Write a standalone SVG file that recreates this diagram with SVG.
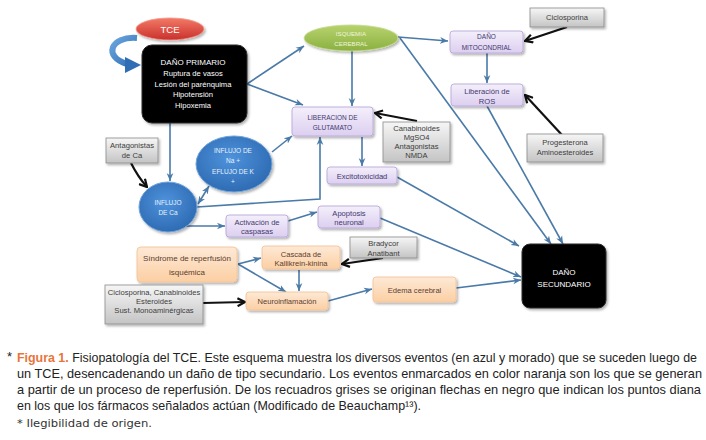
<svg xmlns="http://www.w3.org/2000/svg" width="706" height="440" viewBox="0 0 706 440">
<defs>
<linearGradient id="gGray" x1="0" y1="0" x2="0" y2="1"><stop offset="0" stop-color="#f6f6f6"/><stop offset="1" stop-color="#c4c4c4"/></linearGradient>
<linearGradient id="gPurple" x1="0" y1="0" x2="0" y2="1"><stop offset="0" stop-color="#f4effb"/><stop offset="1" stop-color="#dccff0"/></linearGradient>
<linearGradient id="gOrange" x1="0" y1="0" x2="0" y2="1"><stop offset="0" stop-color="#fee9d6"/><stop offset="1" stop-color="#fbcfa3"/></linearGradient>
<radialGradient id="gBlue" cx="0.45" cy="0.4" r="0.65"><stop offset="0" stop-color="#4e93dc"/><stop offset="1" stop-color="#2c68b0"/></radialGradient>
<linearGradient id="gGreen" x1="0" y1="0" x2="0" y2="1"><stop offset="0" stop-color="#b7d36c"/><stop offset="1" stop-color="#8bb042"/></linearGradient>
<linearGradient id="gRed" x1="0" y1="0" x2="0" y2="1"><stop offset="0" stop-color="#f37a66"/><stop offset="1" stop-color="#c9302c"/></linearGradient>
<linearGradient id="gArc" x1="0" y1="0" x2="1" y2="1"><stop offset="0" stop-color="#6aa6de"/><stop offset="1" stop-color="#2f6db5"/></linearGradient>
<filter id="sh" x="-20%" y="-20%" width="150%" height="160%"><feDropShadow dx="1.5" dy="1.8" stdDeviation="1.2" flood-color="#000" flood-opacity="0.3"/></filter>
<marker id="ab" viewBox="0 0 10 10" refX="10" refY="5" markerWidth="8" markerHeight="8" markerUnits="userSpaceOnUse" orient="auto-start-reverse"><path d="M0,0.8 L10,5 L0,9.2 L3,5 z" fill="#4a7aa8"/></marker>
<marker id="ak" viewBox="0 0 10 10" refX="9" refY="5" markerWidth="10" markerHeight="10" markerUnits="userSpaceOnUse" orient="auto"><path d="M1.5,1 L9,5 L1.5,9" fill="none" stroke="#111" stroke-width="2.2"/></marker>
<style>
.t{font-family:"Liberation Sans",Arial,sans-serif;text-anchor:middle;}
.s{font-size:7.6px;}
.c{font-size:6.5px;}
.gray rect{fill:url(#gGray);stroke:#8a8a8a;stroke-width:0.8;filter:url(#sh);}
.gray text{fill:#3c3c3c;}
.pur rect{fill:url(#gPurple);stroke:#b9a8da;stroke-width:0.9;filter:url(#sh);}
.pur text{fill:#43386e;}
.org rect{fill:url(#gOrange);stroke:#f4c498;stroke-width:0.9;filter:url(#sh);}
.org text{fill:#5a4030;}
.blk rect{fill:#000;stroke:#2a2a2a;stroke-width:1;filter:url(#sh);}
.blk text{fill:#fff;}
.blu ellipse{fill:url(#gBlue);stroke:#6fa3da;stroke-width:1;filter:url(#sh);}
.blu text{fill:#e8f1fb;}
.bl{fill:none;stroke:#4a7aa8;stroke-width:1.6;marker-end:url(#ab);}
.kl{fill:none;stroke:#111;stroke-width:2.2;marker-end:url(#ak);}
.cap{font-family:"Liberation Sans",Arial,sans-serif;font-size:13px;fill:#222;}
</style>
</defs>
<rect width="706" height="440" fill="#fff"/>

<g id="connectors">
<path class="bl" d="M247,84 L304,46"/>
<path class="bl" d="M247,84 L303,105"/>
<path class="bl" d="M170,123 L170,181"/>
<path class="bl" d="M398,37 L448,41"/>
<path class="bl" d="M352,51 L352,106"/>
<path class="bl" d="M400,38 L551,244"/>
<path class="bl" d="M487,53 L487,83"/>
<path class="bl" d="M487,106 L563,244"/>
<path class="bl" d="M362,137 L362,166"/>
<path class="bl" d="M272,152 L292,136"/>
<path class="bl" d="M198,204 L209,186" marker-start="url(#ab)"/>
<path class="bl" d="M197,207 L320,199 L320,137"/>
<path class="bl" d="M186,226 L225,226"/>
<path class="bl" d="M288,221 L317,212"/>
<path class="bl" d="M397,177 L519,246"/>
<path class="bl" d="M380,218 L521,277"/>
<path class="bl" d="M238,264 L261,258"/>
<path class="bl" d="M238,264 L286,292"/>
<path class="bl" d="M299,270 L299,291"/>
<path class="bl" d="M328,301 L372,289"/>
<path class="bl" d="M456,288 L521,280"/>
<path class="kl" d="M567,27 L525,41"/>
<path class="kl" d="M562,135 L525,95"/>
<path class="kl" d="M417,121 L375,113"/>
<path class="kl" d="M131,163 Q138,177 147,187"/>
<path class="kl" d="M383,258 L342,264"/>
<path class="kl" d="M203,303 L245,302"/>
<g id="tce-arrow">
<path d="M137,38 C110,36 103,57 127,64" fill="none" stroke="url(#gArc)" stroke-width="6"/>
<path d="M125,57 L141,65 L125,73 Z" fill="#2f6db5"/>
</g>
</g>

<g id="tce">
<ellipse cx="170" cy="29" rx="34" ry="11" fill="url(#gRed)" stroke="#f19a8c" stroke-width="0.8" filter="url(#sh)"/>
<text class="t" x="170" y="32.5" font-size="9.5" fill="#fff">TCE</text>
</g>

<g id="dano-primario" class="blk">
<rect x="142" y="45" width="105" height="78" rx="10"/>
<text class="t" x="193" y="65" font-size="8">DAÑO PRIMARIO</text>
<text class="t s" x="193" y="76">Ruptura de vasos</text>
<text class="t s" x="193" y="86.5">Lesión  del parénquima</text>
<text class="t s" x="193" y="97">Hipotensión</text>
<text class="t s" x="193" y="107.5">Hipoxemia</text>
</g>

<g id="isquemia">
<ellipse cx="351" cy="38" rx="47" ry="13" fill="url(#gGreen)" stroke="#c5dc8e" stroke-width="0.8" filter="url(#sh)"/>
<text class="t" x="351" y="35.5" font-size="6.2" fill="#eef5dc">ISQUEMIA</text>
<text class="t" x="351" y="45.5" font-size="6.2" fill="#eef5dc">CEREBRAL</text>
</g>

<g id="dano-mito" class="pur">
<rect x="450" y="31" width="73" height="22" rx="3"/>
<text class="t c" x="486.5" y="39">DAÑO</text>
<text class="t c" x="486.5" y="49.5">MITOCONDRIAL</text>
</g>

<g id="ciclosporina" class="gray">
<rect x="530" y="8" width="74" height="19"/>
<text class="t s" x="567" y="20">Ciclosporina</text>
</g>

<g id="ros" class="pur">
<rect x="451" y="84" width="72" height="22" rx="3"/>
<text class="t s" x="487" y="93.5">Liberación de</text>
<text class="t s" x="487" y="103.5">ROS</text>
</g>

<g id="progesterona" class="gray">
<rect x="527" y="134" width="76" height="28"/>
<text class="t s" x="565" y="145">Progesterona</text>
<text class="t s" x="565" y="155">Aminoesteroides</text>
</g>

<g id="glutamato" class="pur">
<rect x="292" y="107" width="81" height="29" rx="3"/>
<text class="t c" x="332.5" y="119.5">LIBERACION DE</text>
<text class="t c" x="332.5" y="130">GLUTAMATO</text>
</g>

<g id="canabinoides" class="gray">
<rect x="383" y="122" width="67" height="40"/>
<text class="t s" x="416.5" y="130.5">Canabinoides</text>
<text class="t s" x="416.5" y="139.5">MgSO4</text>
<text class="t s" x="416.5" y="148.5">Antagonistas</text>
<text class="t s" x="416.5" y="157.5">NMDA</text>
</g>

<g id="excitotoxicidad" class="pur">
<rect x="327" y="167" width="70" height="17" rx="3"/>
<text class="t s" x="362" y="178.5">Excitotoxicidad</text>
</g>

<g id="influjo-na" class="blu">
<ellipse cx="234" cy="164" rx="38" ry="28"/>
<text class="t c" x="233" y="152.5">INFLUJO DE</text>
<text class="t c" x="233" y="163">Na +</text>
<text class="t c" x="233" y="174">EFLUJO DE K</text>
<text class="t c" x="233" y="184">+</text>
</g>

<g id="influjo-ca" class="blu">
<ellipse cx="168" cy="207" rx="29" ry="25"/>
<text class="t c" x="168" y="204.5">INFLUJO</text>
<text class="t c" x="168" y="215">DE Ca</text>
</g>

<g id="antagonistas-ca" class="gray">
<rect x="106" y="138" width="52" height="25"/>
<text class="t s" x="132" y="148">Antagonistas</text>
<text class="t s" x="132" y="158">de Ca</text>
</g>

<g id="caspasas" class="pur">
<rect x="226" y="215" width="62" height="22" rx="3"/>
<text class="t s" x="257" y="224.5">Activación de</text>
<text class="t s" x="257" y="234">caspasas</text>
</g>

<g id="apoptosis" class="pur">
<rect x="318" y="206" width="62" height="22" rx="3"/>
<text class="t s" x="349" y="215.5">Apoptosis</text>
<text class="t s" x="349" y="225">neuronal</text>
</g>

<g id="dano-secundario" class="blk">
<rect x="522" y="244" width="84" height="64" rx="8"/>
<text class="t" x="564" y="275" font-size="8">DAÑO</text>
<text class="t" x="564" y="286.5" font-size="8">SECUNDARIO</text>
</g>

<g id="sindrome" class="org">
<rect x="137" y="247" width="100" height="35" rx="4"/>
<text class="t" x="187" y="261" font-size="8">Síndrome de reperfusión</text>
<text class="t" x="187" y="275" font-size="8">isquémica</text>
</g>

<g id="cascada" class="org">
<rect x="262" y="246" width="78" height="23" rx="3"/>
<text class="t s" x="301" y="256.5">Cascada de</text>
<text class="t s" x="301" y="266">Kallikrein-kinina</text>
</g>

<g id="bradycor" class="gray">
<rect x="350" y="237" width="67" height="21"/>
<text class="t s" x="383.5" y="245.5">Bradycor</text>
<text class="t s" x="383.5" y="255.5">Anatibant</text>
</g>

<g id="neuroinflamacion" class="org">
<rect x="246" y="292" width="82" height="18" rx="3"/>
<text class="t s" x="287" y="304">Neuroinflamación</text>
</g>

<g id="farmacos" class="gray">
<rect x="105" y="285" width="98" height="39"/>
<text class="t s" x="154" y="295">Ciclosporina, Canabinoides</text>
<text class="t s" x="154" y="304">Esteroides</text>
<text class="t s" x="154" y="313">Sust. Monoaminérgicas</text>
</g>

<g id="edema" class="org">
<rect x="373" y="277" width="83" height="25" rx="3"/>
<text class="t s" x="414.5" y="292.5">Edema cerebral</text>
</g>

<g id="caption">
<text class="cap" x="7" y="361" fill="#555" font-size="11">*</text>
<text class="cap" transform="translate(17,361.5) scale(0.88,1)" x="0" y="0" textLength="772.7" lengthAdjust="spacingAndGlyphs"><tspan fill="#e8743b" font-weight="bold">Figura 1.</tspan> Fisiopatología del TCE. Este esquema muestra los diversos eventos (en azul y morado) que se suceden luego de</text>
<text class="cap" transform="translate(17,377.5) scale(0.88,1)" x="0" y="0" textLength="778.4" lengthAdjust="spacingAndGlyphs">un TCE, desencadenando un daño de tipo secundario. Los eventos enmarcados en color naranja son los que se generan</text>
<text class="cap" transform="translate(17,393.5) scale(0.88,1)" x="0" y="0" textLength="777.3" lengthAdjust="spacingAndGlyphs">a partir de un proceso de reperfusión. De los recuadros grises se originan flechas en negro que indican los puntos diana</text>
<text class="cap" transform="translate(17,409.5) scale(0.88,1)" x="0" y="0" textLength="459.1" lengthAdjust="spacingAndGlyphs">en los que los fármacos señalados actúan (Modificado de Beauchamp¹³).</text>
<text x="17" y="427" font-family="DejaVu Sans, Verdana, sans-serif" font-size="11" fill="#333" textLength="135" lengthAdjust="spacingAndGlyphs">* Ilegibilidad de origen.</text>
</g>
</svg>
